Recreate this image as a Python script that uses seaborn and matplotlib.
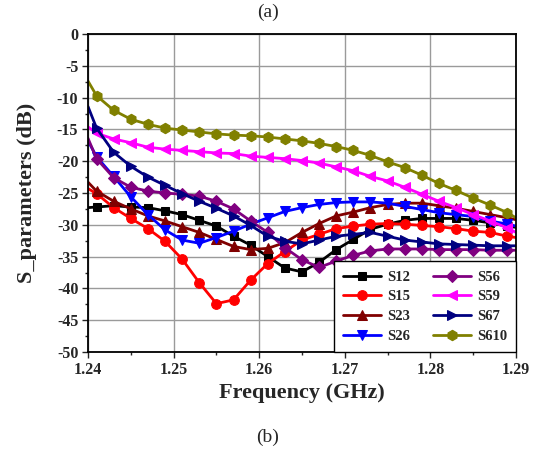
import numpy as np
import pandas as pd
import matplotlib
matplotlib.use("Agg")
import matplotlib.pyplot as plt
import seaborn as sns
from matplotlib.ticker import MultipleLocator

# Frequency points (GHz): edges 1.240 / 1.290 plus marker points 1.241 ... 1.289
freq = [1.240] + [round(1.241 + 0.002 * i, 3) for i in range(25)] + [1.290]

S12 = [-27.3, -27.2, -27.0, -27.2, -27.3, -27.8, -28.4, -29.3, -30.2, -31.8, -33.2,
       -35.0, -36.8, -37.4, -35.9, -33.9, -32.3, -30.7, -29.9, -29.3, -29.0,
       -29.0, -29.0, -29.3, -29.7, -30.2, -30.4]
S15 = [-24.3, -25.1, -27.3, -29.0, -30.6, -32.6, -35.4, -39.1, -42.4, -41.8, -38.7,
       -36.1, -34.2, -32.4, -31.5, -30.6, -30.2, -29.9, -29.8, -29.9, -30.1,
       -30.3, -30.6, -31.0, -31.2, -31.8, -32.0]
S23 = [-23.3, -24.7, -26.3, -27.5, -28.6, -29.4, -30.3, -31.2, -32.3, -33.4, -33.9,
       -33.7, -32.8, -31.2, -29.8, -28.6, -28.0, -27.3, -26.8, -26.6, -26.6,
       -27.0, -27.4, -27.9, -28.4, -28.9, -29.2]
S26 = [-16.8, -19.3, -22.4, -25.6, -28.4, -30.8, -32.4, -32.9, -32.0, -31.0, -29.9,
       -28.9, -27.9, -27.3, -26.8, -26.5, -26.4, -26.4, -26.6, -27.1, -27.6,
       -28.1, -28.4, -28.7, -29.4, -29.9, -30.2]
S56 = [-16.4, -19.6, -22.6, -24.1, -24.7, -25.0, -25.2, -25.5, -26.3, -27.5, -29.4,
       -31.2, -33.6, -35.5, -36.7, -35.7, -34.8, -34.1, -33.8, -33.8, -33.8,
       -33.9, -33.9, -33.9, -34.0, -34.0, -34.0]
S59 = [-14.6, -15.6, -16.5, -17.1, -17.8, -18.1, -18.3, -18.5, -18.7, -18.8, -19.2,
       -19.4, -19.6, -19.9, -20.3, -20.9, -21.5, -22.4, -23.1, -24.1, -25.2,
       -26.3, -27.3, -28.4, -29.4, -30.5, -31.2]
S67 = [-11.4, -14.8, -18.6, -20.8, -22.5, -23.8, -25.1, -26.3, -27.4, -28.6, -30.1,
       -31.8, -32.6, -33.0, -32.4, -31.8, -31.5, -31.2, -31.8, -32.4, -32.7,
       -33.0, -33.1, -33.2, -33.3, -33.3, -33.3]
S610 = [-7.4, -9.7, -12.0, -13.4, -14.2, -14.8, -15.1, -15.4, -15.7, -15.9, -16.0,
        -16.2, -16.5, -16.8, -17.2, -17.7, -18.3, -19.1, -20.1, -21.0, -22.2,
        -23.5, -24.6, -25.8, -26.9, -28.1, -28.9]

labels = ["S12", "S15", "S23", "S26", "S56", "S59", "S67", "S610"]
series = [S12, S15, S23, S26, S56, S59, S67, S610]
colors = ["#000000", "#FF0000", "#800000", "#0000FF", "#800080", "#FF00FF", "#000080", "#808000"]
markers = ["s", "o", "^", "v", "D", "<", ">", "h"]
msizes = [6, 7, 7, 7, 6, 7, 7, 7.5]

sns.set_style("white")
plt.rcParams["font.family"] = ["Liberation Serif", "DejaVu Serif"]

fig = plt.figure(figsize=(5.36, 4.5), dpi=100)
ax = fig.add_axes([88 / 536, 1 - 352 / 450, (516 - 88) / 536, (352 - 34) / 450])

for lab, vals, c, m, ms in zip(labels, series, colors, markers, msizes):
    df = pd.DataFrame({"f": freq, "v": vals})
    sns.lineplot(data=df, x="f", y="v", ax=ax, color=c, marker=m, markersize=ms,
                 markeredgecolor=c, markerfacecolor=c, linewidth=2.0,
                 markevery=slice(1, len(freq) - 1), label=lab, sort=True)

ax.set_xlim(1.24, 1.29)
ax.set_ylim(-50, 0)
ax.xaxis.set_minor_locator(MultipleLocator(0.005))
ax.yaxis.set_minor_locator(MultipleLocator(2.5))
ax.set_xticks([1.24, 1.25, 1.26, 1.27, 1.28, 1.29])
ax.set_xticklabels(["1.24", "1.25", "1.26", "1.27", "1.28", "1.29"])
ax.set_yticks(list(range(-50, 1, 5)))
ax.set_yticklabels([str(v) for v in range(-50, 1, 5)])
ax.grid(True, which="major", color="#9a9a9a", linewidth=1.0)
ax.set_axisbelow(True)
ax.tick_params(axis="both", which="major", direction="out", length=4, width=1,
               labelsize=11.5, bottom=True, left=True, top=False, right=False, pad=3)
ax.tick_params(axis="both", which="minor", direction="out", length=2.5, width=1,
               bottom=True, left=True, top=False, right=False)
for lbl in ax.get_xticklabels() + ax.get_yticklabels():
    lbl.set_fontweight("bold")
for sp in ax.spines.values():
    sp.set_color("black")
    sp.set_linewidth(1.3)

ax.set_xlabel("Frequency (GHz)", fontsize=16, fontweight="bold", labelpad=4)
ax.set_ylabel("S_parameters (dB)", fontsize=16, fontweight="bold", labelpad=14)

leg = ax.legend(loc="lower right", ncol=2, frameon=True, fancybox=False,
                edgecolor="black", borderaxespad=0.0, handlelength=2.6,
                columnspacing=1.6, labelspacing=0.45, handletextpad=0.4,
                borderpad=0.62,
                prop={"family": "Liberation Serif", "weight": "bold", "size": 10.5})
leg.get_frame().set_linewidth(1.0)
leg.get_frame().set_alpha(1)

fig.text(0.5, 1 - 12 / 450, "(a)", ha="center", va="center", fontsize=14)
fig.text(0.5, 1 - 437 / 450, "(b)", ha="center", va="center", fontsize=14)

fig.savefig("out.png", dpi=100)
